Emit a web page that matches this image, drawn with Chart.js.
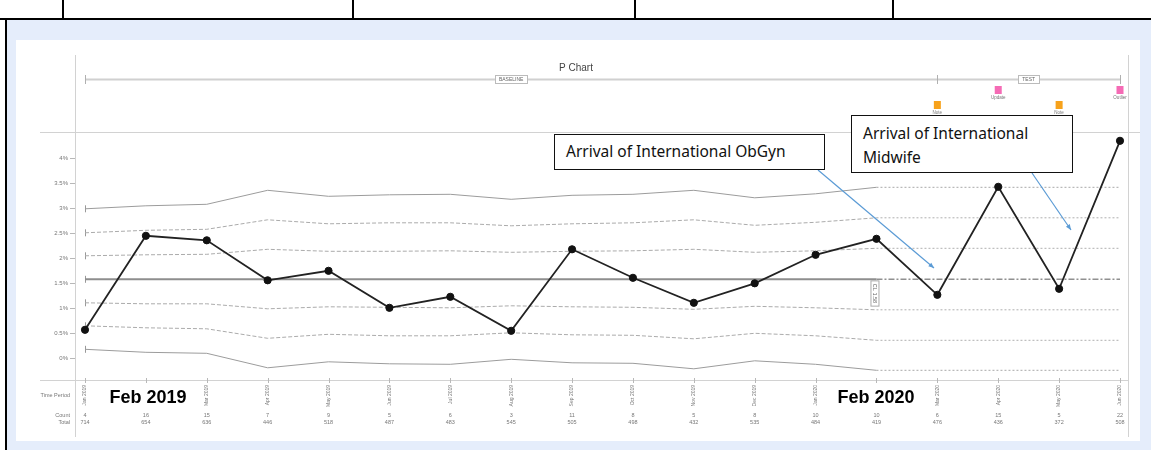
<!DOCTYPE html>
<html>
<head>
<meta charset="utf-8">
<script src="https://cdn.jsdelivr.net/npm/chart.js@4.4.1/dist/chart.umd.min.js"></script>
<style>
  html,body{margin:0;padding:0;}
  body{width:1151px;height:450px;position:relative;overflow:hidden;background:#fff;font-family:"Liberation Sans",Arial,sans-serif;}
  .abs{position:absolute;}
  #chart{position:absolute;left:0;top:0;z-index:2;}
  .note{position:absolute;z-index:3;background:#fff;border:1.5px solid #111;box-sizing:border-box;
        font-family:"Noto Sans",sans-serif;font-size:15.5px;color:#111;white-space:nowrap;}
  .big{position:absolute;z-index:3;font:bold 18px "Liberation Sans",Arial,sans-serif;color:#000;
       transform:translate(-50%,-50%);white-space:nowrap;}
</style>
</head>
<body>
<!-- page chrome (table row + panel) -->
<div class="abs" style="left:0;top:18px;width:1151px;height:2px;background:#000"></div>
<div class="abs" style="left:62px;top:0;width:1.5px;height:20px;background:#000"></div>
<div class="abs" style="left:352px;top:0;width:1.5px;height:20px;background:#000"></div>
<div class="abs" style="left:634px;top:0;width:1.5px;height:20px;background:#000"></div>
<div class="abs" style="left:892px;top:0;width:1.5px;height:20px;background:#000"></div>
<div class="abs" style="left:5px;top:18px;width:2px;height:432px;background:#000"></div>
<div class="abs" style="left:7px;top:20px;width:1144px;height:430px;background:#e5edfb"></div>
<div class="abs" style="left:16px;top:40px;width:1124px;height:401px;background:#fff"></div>

<canvas id="chart" width="1151" height="450"></canvas>

<div class="note" style="left:554px;top:134px;width:271px;height:36px;line-height:33px;padding-left:11px;">Arrival of International ObGyn</div>
<div class="note" style="left:851px;top:115px;width:222px;height:58px;line-height:24px;padding:5px 0 0 11px;">Arrival of International<br>Midwife</div>

<div class="big" style="left:148px;top:397px;">Feb 2019</div>
<div class="big" style="left:876px;top:397px;">Feb 2020</div>

<script>
// ---------------- data ----------------
const months = ['Jan 2019','Feb 2019','Mar 2019','Apr 2019','May 2019','Jun 2019','Jul 2019','Aug 2019','Sep 2019',
                'Oct 2019','Nov 2019','Dec 2019','Jan 2020','Feb 2020','Mar 2020','Apr 2020','May 2020','Jun 2020'];
const counts = [4,16,15,7,9,5,6,3,11,8,5,8,10,10,6,15,5,22];
const totals = [714,654,636,446,518,487,483,545,505,498,432,535,484,419,476,436,372,508];
const pct    = [0.57,2.45,2.36,1.56,1.75,1.01,1.23,0.55,2.18,1.61,1.11,1.50,2.07,2.39,1.27,3.43,1.39,4.35];

// baseline control limits (per point)
const uclBase = [2.99,3.05,3.08,3.36,3.24,3.27,3.28,3.18,3.26,3.28,3.36,3.21,3.29,3.42,null,null,null,null];
const p2Base  = [2.51,2.56,2.58,2.77,2.69,2.71,2.71,2.65,2.69,2.71,2.77,2.66,2.72,2.81,null,null,null,null];
const p1Base  = [2.05,2.07,2.08,2.18,2.14,2.14,2.15,2.12,2.14,2.15,2.18,2.12,2.15,2.20,null,null,null,null];
const clBase  = [1.58,1.58,1.58,1.58,1.58,1.58,1.58,1.58,1.58,1.58,1.58,1.58,1.58,1.58,null,null,null,null];
const m1Base  = [1.11,1.09,1.09,0.99,1.03,1.02,1.01,1.05,1.03,1.02,0.98,1.04,1.01,0.97,null,null,null,null];
const m2Base  = [0.65,0.61,0.59,0.40,0.48,0.45,0.45,0.51,0.47,0.46,0.39,0.50,0.45,0.36,null,null,null,null];
const lclBase = [0.18,0.12,0.10,-0.19,-0.07,-0.11,-0.12,-0.02,-0.09,-0.10,-0.21,-0.05,-0.12,-0.24,null,null,null,null];

// test phase limits
const uclTest = [null,null,null,null,null,null,null,null,null,null,null,null,null,3.42,3.42,3.42,3.42,3.42];
const p2Test  = [null,null,null,null,null,null,null,null,null,null,null,null,null,2.81,2.81,2.81,2.81,2.81];
const p1Test  = [null,null,null,null,null,null,null,null,null,null,null,null,null,2.20,2.20,2.20,2.20,2.20];
const clTest  = [null,null,null,null,null,null,null,null,null,null,null,null,null,1.58,1.58,1.58,1.58,1.58];
const m1Test  = [null,null,null,null,null,null,null,null,null,null,null,null,null,0.97,0.97,0.97,0.97,0.97];
const m2Test  = [null,null,null,null,null,null,null,null,null,null,null,null,null,0.36,0.36,0.36,0.36,0.36];
const lclTest = [null,null,null,null,null,null,null,null,null,null,null,null,null,-0.24,-0.24,-0.24,-0.24,-0.24];

const yTicks      = [0,0.5,1,1.5,2,2.5,3,3.5,4];
const yTickLabels = ['0%','0.5%','1%','1.5%','2%','2.5%','3%','3.5%','4%'];

const phases      = ['BASELINE','TEST'];
const phaseBounds = [0,14,17];
const markerIdx   = [14,15,16,17];
const markerText  = ['Note','Update','Note','Outlier'];
const markerKind  = ['note','update','note','outlier'];
const hiddenMonthIdx = [1,13];   // covered by the large callout labels
const clLabel = 'CL 1.58';

// ---------------- chart ----------------
const FONT = '"Liberation Sans", Arial, sans-serif';
Chart.defaults.font.family = FONT;

function limitLine(data, color, width, dash){
  return {data, borderColor:color, borderWidth:width, borderDash:dash, pointRadius:0,
          pointHoverRadius:0, fill:false, tension:0, spanGaps:false};
}

const chromePlugin = {
  id:'chrome',
  beforeDatasetsDraw(chart){
    const ctx = chart.ctx, xs = chart.scales.x, ys = chart.scales.y;
    const L = (a,b,c,d)=>{ctx.beginPath();ctx.moveTo(a,b);ctx.lineTo(c,d);ctx.stroke();};
    ctx.save();
    ctx.strokeStyle = '#d2d2d2'; ctx.lineWidth = 1;
    L(75.5,55,75.5,437); L(1128.5,55,1128.5,437);
    L(40,132.5,1140,132.5); L(40,380.5,1128,380.5);
    ctx.strokeStyle = '#b8b8b8';
    yTicks.forEach(v=>{const py=Math.round(ys.getPixelForValue(v))+0.5; L(70,py,75,py);});
    months.forEach((m,i)=>{const px=Math.round(xs.getPixelForValue(i))+0.5; L(px,378,px,383);});
    // start ticks on baseline limit lines
    ctx.strokeStyle = '#999';
    const x0 = Math.round(xs.getPixelForValue(0))+0.5;
    [uclBase,p2Base,p1Base,clBase,m1Base,m2Base,lclBase].forEach(a=>{
      const py = ys.getPixelForValue(a[0]); L(x0,py-3.5,x0,py+3.5);
    });
    ctx.restore();
  },
  afterDraw(chart){
    const ctx = chart.ctx, xs = chart.scales.x, ys = chart.scales.y;
    const L = (a,b,c,d)=>{ctx.beginPath();ctx.moveTo(a,b);ctx.lineTo(c,d);ctx.stroke();};
    ctx.save();
    // title
    ctx.fillStyle = '#444'; ctx.font = '10px '+FONT; ctx.textAlign='center'; ctx.textBaseline='middle';
    ctx.fillText('P Chart', 576, 68);
    // phase bar
    const py = 79.5;
    ctx.strokeStyle = '#d0d0d0'; ctx.lineWidth = 2;
    L(xs.getPixelForValue(phaseBounds[0]),py,xs.getPixelForValue(phaseBounds[2]),py);
    ctx.lineWidth = 1; ctx.strokeStyle = '#b0b0b0';
    phaseBounds.forEach(b=>{const px=Math.round(xs.getPixelForValue(b))+0.5; L(px,75,px,84);});
    ctx.font = '5px '+FONT;
    phases.forEach((p,k)=>{
      const cx = (xs.getPixelForValue(phaseBounds[k])+xs.getPixelForValue(phaseBounds[k+1]))/2;
      const w = ctx.measureText(p).width+8;
      ctx.fillStyle='#fff'; ctx.fillRect(cx-w/2,py-4,w,8);
      ctx.strokeStyle='#bbb'; ctx.strokeRect(Math.round(cx-w/2)+0.5,py-4,Math.round(w),8);
      ctx.fillStyle='#666'; ctx.fillText(p,cx,py+0.5);
    });
    // markers
    markerIdx.forEach((idx,k)=>{
      const cx = xs.getPixelForValue(idx);
      const isNote = markerKind[k]==='note';
      const my = isNote ? 105 : 90;
      ctx.fillStyle = isNote ? '#f7a21b' : '#f56bb5';
      ctx.fillRect(cx-3.5,my-4,7,8);
      ctx.fillStyle = '#777'; ctx.font='4.5px '+FONT;
      ctx.fillText(markerText[k], cx, my+8);
    });
    // row labels
    ctx.fillStyle = '#777'; ctx.font = '5.5px '+FONT; ctx.textAlign='right';
    ctx.fillText('Time Period', 70, 395);
    ctx.fillText('Count', 70, 415);
    ctx.fillText('Total', 70, 422);
    ctx.textAlign='center';
    months.forEach((m,i)=>{
      const px = xs.getPixelForValue(i);
      ctx.fillText(String(counts[i]), px, 415);
      ctx.fillText(String(totals[i]), px, 422);
    });
    // CL label (rotated)
    ctx.save();
    ctx.translate(xs.getPixelForValue(13)-1.5, 293.5);
    ctx.rotate(Math.PI/2);
    ctx.font='5.5px '+FONT;
    const tw = ctx.measureText(clLabel).width+6;
    ctx.fillStyle='#fff'; ctx.fillRect(-tw/2,-4,tw,8);
    ctx.strokeStyle='#aaa'; ctx.lineWidth=1; ctx.strokeRect(-tw/2,-4,tw,8);
    ctx.fillStyle='#666'; ctx.textAlign='center'; ctx.textBaseline='middle';
    ctx.fillText(clLabel,0,0.5);
    ctx.restore();
    // callout arrows
    const arrow=(x1,y1,x2,y2)=>{
      ctx.strokeStyle='#5b9bd5'; ctx.fillStyle='#5b9bd5'; ctx.lineWidth=1.2;
      L(x1,y1,x2,y2);
      const a=Math.atan2(y2-y1,x2-x1), s=6;
      ctx.beginPath(); ctx.moveTo(x2,y2);
      ctx.lineTo(x2-s*Math.cos(a-0.4),y2-s*Math.sin(a-0.4));
      ctx.lineTo(x2-s*Math.cos(a+0.4),y2-s*Math.sin(a+0.4));
      ctx.closePath(); ctx.fill();
    };
    arrow(818,170,934,268);
    arrow(1032,173,1071,230);
    ctx.restore();
  }
};

new Chart(document.getElementById('chart'), {
  type:'line',
  data:{
    labels: months,
    datasets:[
      {label:'Proportion', data:pct, borderColor:'#222', borderWidth:1.8, tension:0,
       pointRadius:3.6, pointBackgroundColor:'#111', pointBorderColor:'#111', pointBorderWidth:1, fill:false},
      limitLine(uclBase,'#9c9c9c',1,[]),
      limitLine(p2Base,'#ababab',1,[4,2]),
      limitLine(p1Base,'#ababab',1,[4,2]),
      limitLine(clBase,'#8e8e8e',2,[]),
      limitLine(m1Base,'#ababab',1,[4,2]),
      limitLine(m2Base,'#ababab',1,[4,2]),
      limitLine(lclBase,'#9c9c9c',1,[]),
      limitLine(uclTest,'#a8a8a8',1,[2,2]),
      limitLine(p2Test,'#b0b0b0',1,[2,2]),
      limitLine(p1Test,'#b0b0b0',1,[2,2]),
      limitLine(clTest,'#909090',1.5,[6,2,2,2]),
      limitLine(m1Test,'#b0b0b0',1,[2,2]),
      limitLine(m2Test,'#b0b0b0',1,[2,2]),
      limitLine(lclTest,'#a8a8a8',1,[2,2])
    ]
  },
  options:{
    responsive:false, animation:false, devicePixelRatio:1,
    layout:{padding:{top:132,right:31,bottom:0,left:0}},
    plugins:{legend:{display:false}, tooltip:{enabled:false}, title:{display:false}},
    scales:{
      x:{
        type:'category', offset:false,
        grid:{display:false, drawTicks:false}, border:{display:false},
        ticks:{autoSkip:false, minRotation:90, maxRotation:90, padding:5,
               font:{size:5, family:FONT}, color:'#777',
               callback:(v,i)=> hiddenMonthIdx.includes(i) ? '' : months[i]},
        afterFit:(s)=>{ s.height = 70; }
      },
      y:{
        type:'linear', min:-0.434, max:4.526,
        grid:{display:false, drawTicks:false}, border:{display:false},
        afterBuildTicks:(s)=>{ s.ticks = yTicks.map(v=>({value:v})); },
        ticks:{padding:17, font:{size:6, family:FONT}, color:'#777',
               callback:(v)=>{ const k=yTicks.indexOf(v); return k>=0 ? yTickLabels[k] : ''; }},
        afterFit:(s)=>{ s.width = 85; }
      }
    }
  },
  plugins:[chromePlugin]
});
</script>
</body>
</html>
